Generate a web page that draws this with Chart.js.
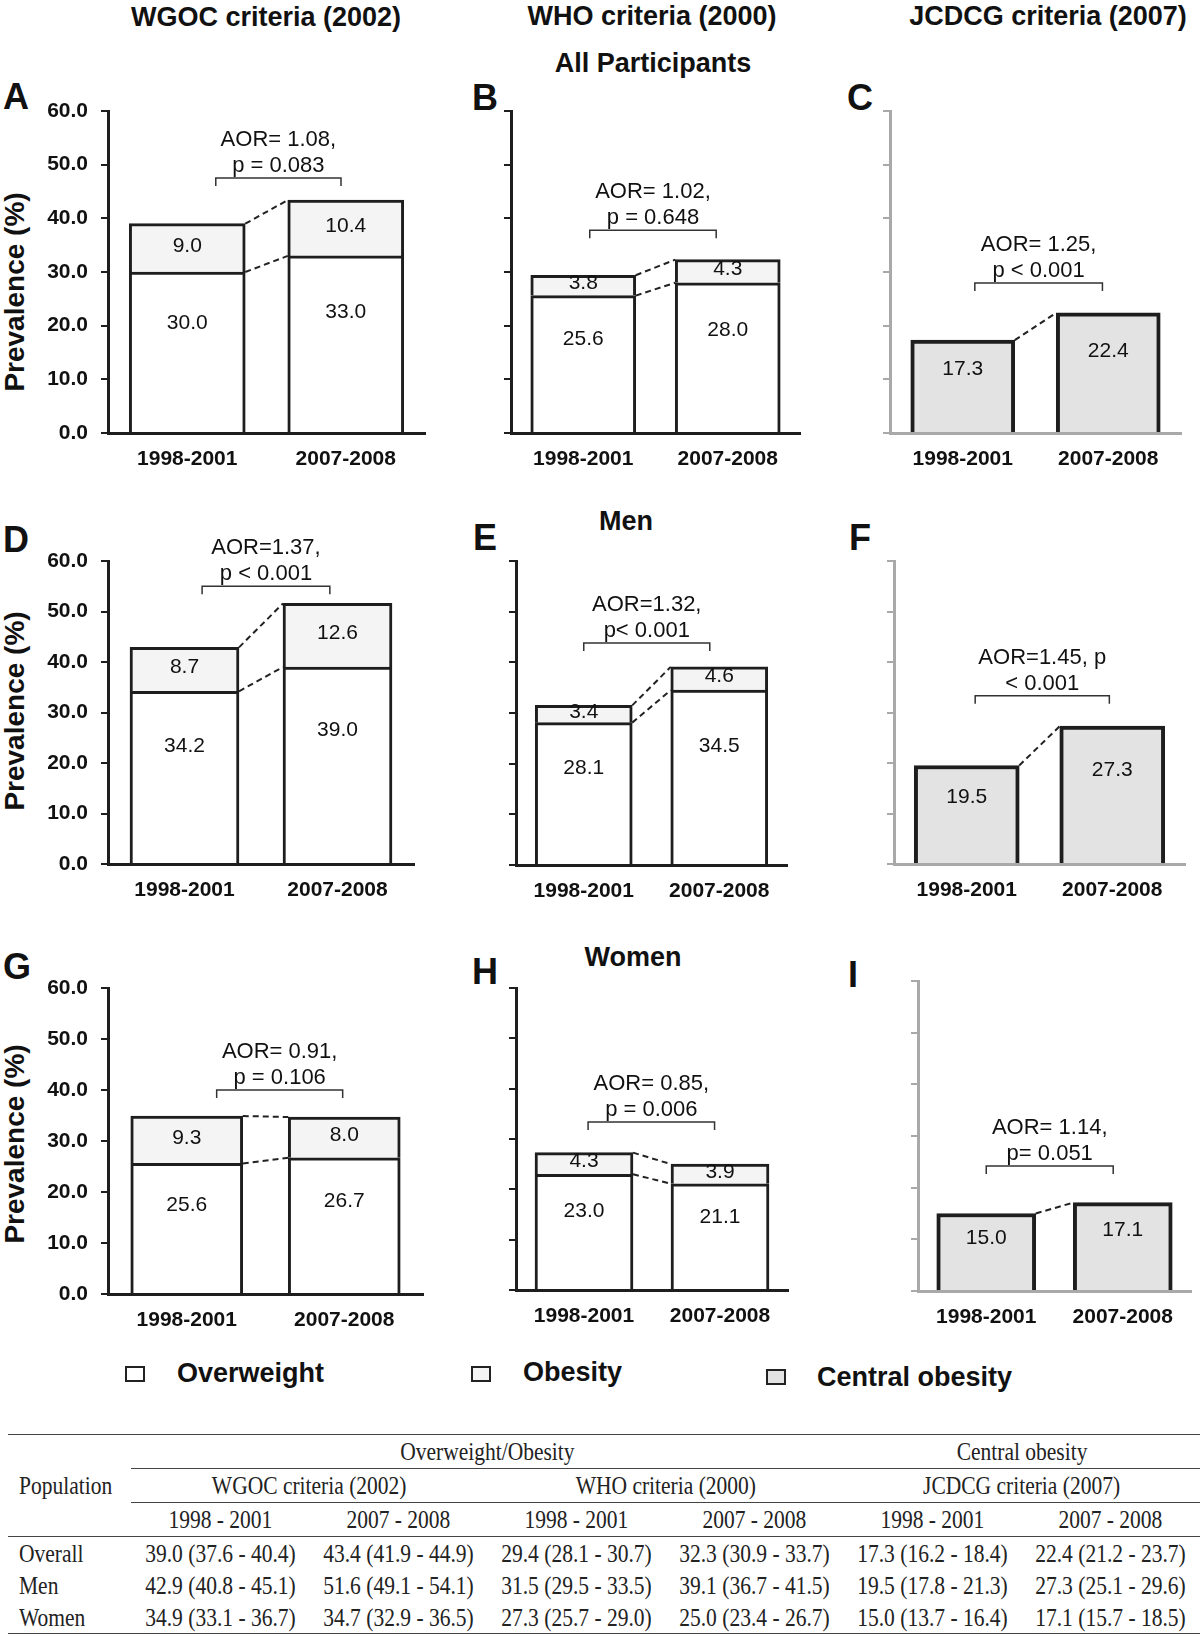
<!DOCTYPE html>
<html><head><meta charset="utf-8">
<script src="https://cdn.jsdelivr.net/npm/chart.js@4.4.0/dist/chart.umd.min.js"></script>
<style>
html,body{margin:0;padding:0;background:#fff;}
body{width:1200px;height:1637px;position:relative;overflow:hidden;font-family:"Liberation Sans",Arial,sans-serif;color:#111;}
.abs{position:absolute;white-space:nowrap;line-height:1;}
.c{transform:translate(-50%,-50%);}
.ttl{font-weight:bold;font-size:27px;}
.let{font-weight:bold;font-size:36px;}
.ylab{font-weight:bold;font-size:28px;transform:translate(-50%,-50%) rotate(-90deg);}
.legt{font-weight:bold;font-size:27px;transform:translateY(-50%);}
.box{position:absolute;width:20px;height:16px;box-sizing:border-box;border:2px solid #222;}
canvas{position:absolute;}
#tbl{position:absolute;left:8px;top:1434px;width:1192px;border-collapse:collapse;table-layout:fixed;
 font-family:"Liberation Serif","Times New Roman",serif;font-size:25px;color:#222;}
#tbl td{padding:0;line-height:1;vertical-align:middle;text-align:center;white-space:nowrap;overflow:visible;}
#tbl td span{display:inline-block;transform:scaleX(0.86);}
#tbl td.lft span{transform-origin:0 50%;}
#tbl tr.r1 td{border-top:1.5px solid #444;height:33px;}
#tbl tr.r2 td{height:33px;}
#tbl tr.r3 td{height:33px;border-bottom:1px solid #444;}
#tbl tr.d td{height:32px;}
#tbl tr.last td{border-bottom:1.5px solid #444;}
#tbl td.bb{border-bottom:1px solid #444;}
#tbl td.lft{text-align:left;padding-left:11px;}
</style>
</head><body>

<!-- column titles -->
<div class="abs c ttl" style="left:266px;top:17px">WGOC criteria (2002)</div>
<div class="abs c ttl" style="left:652px;top:16px">WHO criteria (2000)</div>
<div class="abs c ttl" style="left:1048px;top:16px">JCDCG criteria (2007)</div>
<div class="abs c ttl" style="left:653px;top:63px">All Participants</div>
<div class="abs c ttl" style="left:626px;top:521px">Men</div>
<div class="abs c ttl" style="left:633px;top:957px">Women</div>

<!-- panel letters -->
<div class="abs c let" style="left:16px;top:97px">A</div>
<div class="abs c let" style="left:485px;top:98px">B</div>
<div class="abs c let" style="left:860px;top:98px">C</div>
<div class="abs c let" style="left:16px;top:540px">D</div>
<div class="abs c let" style="left:485px;top:538px">E</div>
<div class="abs c let" style="left:860px;top:538px">F</div>
<div class="abs c let" style="left:17px;top:967px">G</div>
<div class="abs c let" style="left:485px;top:972px">H</div>
<div class="abs c let" style="left:853px;top:975px">I</div>

<!-- y axis titles -->
<div class="abs ylab" style="left:15px;top:292px">Prevalence (%)</div>
<div class="abs ylab" style="left:15px;top:711px">Prevalence (%)</div>
<div class="abs ylab" style="left:15px;top:1144px">Prevalence (%)</div>

<!-- legend -->
<div class="box" style="left:125px;top:1366px;background:#ffffff"></div>
<div class="abs legt" style="left:177px;top:1373px">Overweight</div>
<div class="box" style="left:471px;top:1366px;background:#f4f4f4"></div>
<div class="abs legt" style="left:523px;top:1372px">Obesity</div>
<div class="box" style="left:766px;top:1369px;background:#e3e3e3"></div>
<div class="abs legt" style="left:817px;top:1377px">Central obesity</div>

<table id="tbl">
<colgroup><col style="width:123px"><col span="6"></colgroup>
<tbody id="tb"></tbody>
</table>

<script>
// ---------------- DATA ----------------
const categories = ['1998-2001', '2007-2008'];

// All participants
const overweightWGOC_all = [30.0, 33.0];
const obesityWGOC_all    = [9.0, 10.4];
const overweightWHO_all  = [25.6, 28.0];
const obesityWHO_all     = [3.8, 4.3];
const centralJCDCG_all   = [17.3, 22.4];
// Men
const overweightWGOC_men = [34.2, 39.0];
const obesityWGOC_men    = [8.7, 12.6];
const overweightWHO_men  = [28.1, 34.5];
const obesityWHO_men     = [3.4, 4.6];
const centralJCDCG_men   = [19.5, 27.3];
// Women
const overweightWGOC_women = [25.6, 26.7];
const obesityWGOC_women    = [9.3, 8.0];
const overweightWHO_women  = [23.0, 21.1];
const obesityWHO_women     = [4.3, 3.9];
const centralJCDCG_women   = [15.0, 17.1];

// AOR annotations
const aorA = ['AOR= 1.08,', 'p = 0.083'];
const aorB = ['AOR= 1.02,', 'p = 0.648'];
const aorC = ['AOR= 1.25,', 'p < 0.001'];
const aorD = ['AOR=1.37,', 'p < 0.001'];
const aorE = ['AOR=1.32,', 'p< 0.001'];
const aorF = ['AOR=1.45, p', '< 0.001'];
const aorG = ['AOR= 0.91,', 'p = 0.106'];
const aorH = ['AOR= 0.85,', 'p = 0.006'];
const aorI = ['AOR= 1.14,', 'p= 0.051'];

const yTicks = [0, 10, 20, 30, 40, 50, 60];

// Table
const tablePopulations = ['Overall', 'Men', 'Women'];
const tablePeriods = ['1998 - 2001', '2007 - 2008', '1998 - 2001', '2007 - 2008', '1998 - 2001', '2007 - 2008'];
const tableEst = [[39.0, 43.4, 29.4, 32.3, 17.3, 22.4],
                  [42.9, 51.6, 31.5, 39.1, 19.5, 27.3],
                  [34.9, 34.7, 27.3, 25.0, 15.0, 17.1]];
const tableLo  = [[37.6, 41.9, 28.1, 30.9, 16.2, 21.2],
                  [40.8, 49.1, 29.5, 36.7, 17.8, 25.1],
                  [33.1, 32.9, 25.7, 23.4, 13.7, 15.7]];
const tableHi  = [[40.4, 44.9, 30.7, 33.7, 18.4, 23.7],
                  [45.1, 54.1, 33.5, 41.5, 21.3, 29.6],
                  [36.7, 36.5, 29.0, 26.7, 16.4, 18.5]];

// ---------------- LAYOUT (positions / styles) ----------------
const panels = [
 {key:'A', ow:overweightWGOC_all,   ob:obesityWGOC_all,   aor:aorA, box:[108,425,111,433],  bar:116, yLabels:true,  br:[47.5,0.18,0.97]},
 {key:'B', ow:overweightWHO_all,    ob:obesityWHO_all,    aor:aorB, box:[511,800,111,433],  bar:105, yLabels:false, br:[37.8,0.045,0.92]},
 {key:'C', co:centralJCDCG_all,                            aor:aorC, box:[890,1181,111,433], bar:104, yLabels:false, br:[27.95,0.083,0.96]},
 {key:'D', ow:overweightWGOC_men,   ob:obesityWGOC_men,   aor:aorD, box:[108,414,561,864],  bar:109, yLabels:true,  br:[55.0,0.115,0.95]},
 {key:'E', ow:overweightWHO_men,    ob:obesityWHO_men,    aor:aorE, box:[516,787,561,865],  bar:97,  yLabels:false, br:[43.8,0.0,0.93]},
 {key:'F', co:centralJCDCG_men,                            aor:aorF, box:[894,1185,561,864], bar:105, yLabels:false, br:[33.3,0.058,0.98]},
 {key:'G', ow:overweightWGOC_women, ob:obesityWGOC_women, aor:aorG, box:[108,423,988,1294], bar:112, yLabels:true,  br:[40.0,0.19,0.99]},
 {key:'H', ow:overweightWHO_women,  ob:obesityWHO_women,  aor:aorH, box:[516,788,988,1290], bar:98,  yLabels:false, br:[33.4,0.03,0.96]},
 {key:'I', co:centralJCDCG_women,                          aor:aorI, box:[918,1191,981,1291],bar:99,  yLabels:false, br:[24.2,0.0,0.93]}
];

const TEXT_FONT = '21px "Liberation Sans", Arial, sans-serif';
const AOR_FONT = '22px "Liberation Sans", Arial, sans-serif';

function annotPlugin(p){
  return {
    id: 'annot' + p.key,
    afterDatasetsDraw(chart){
      const ctx = chart.ctx, xs = chart.scales.x, ys = chart.scales.y;
      const metas = chart.data.datasets.map((d, i) => chart.getDatasetMeta(i));
      ctx.save();
      // dashed connectors between bar tops
      ctx.setLineDash([6, 4]); ctx.lineWidth = 2; ctx.strokeStyle = '#222';
      metas.forEach(m => {
        const b0 = m.data[0], b1 = m.data[1];
        ctx.beginPath();
        ctx.moveTo(b0.x + b0.width / 2, b0.y);
        ctx.lineTo(b1.x - b1.width / 2, b1.y);
        ctx.stroke();
      });
      ctx.setLineDash([]);
      // values inside bars
      ctx.fillStyle = '#111'; ctx.font = TEXT_FONT; ctx.textAlign = 'center'; ctx.textBaseline = 'middle';
      chart.data.datasets.forEach((d, i) => {
        const m = metas[i];
        d.data.forEach((v, j) => {
          const el = m.data[j];
          const frac = i === 0 ? 0.68 : 0.5;
          const y = el.base + (el.y - el.base) * frac + (i === 0 ? 0 : -2);
          ctx.fillText(Number(v).toFixed(1), el.x, y);
        });
      });
      // bracket and AOR text
      const [bv, u0, u1] = p.br;
      const x0 = xs.getPixelForValue(0), x1 = xs.getPixelForValue(1);
      const bx0 = x0 + u0 * (x1 - x0), bx1 = x0 + u1 * (x1 - x0), by = ys.getPixelForValue(bv);
      ctx.lineWidth = 1.5; ctx.strokeStyle = '#333';
      ctx.beginPath();
      ctx.moveTo(bx0, by + 8); ctx.lineTo(bx0, by); ctx.lineTo(bx1, by); ctx.lineTo(bx1, by + 8);
      ctx.stroke();
      const cx = (bx0 + bx1) / 2;
      ctx.font = AOR_FONT;
      ctx.fillText(p.aor[0], cx, by - 38);
      ctx.fillText(p.aor[1], cx, by - 12);
      ctx.restore();
    }
  };
}

panels.forEach(p => {
  const [L, R, T, B] = p.box;
  const PADT = 80, PADR = 12, XH = 45;
  const cl = p.yLabels ? 0 : L - 30;
  const ct = T - PADT;
  const cw = R + PADR - cl, ch = B + XH - ct;
  const yW = L - cl;
  const cv = document.createElement('canvas');
  cv.width = cw; cv.height = ch;
  cv.style.left = cl + 'px'; cv.style.top = ct + 'px';
  cv.style.width = cw + 'px'; cv.style.height = ch + 'px';
  document.body.appendChild(cv);

  const gray = !!p.co;
  const axisColor = gray ? '#a9a9a9' : '#1e1e1e';
  let datasets;
  if (p.co) {
    datasets = [{label:'Central obesity', data:p.co, backgroundColor:'#e3e3e3', borderColor:'#1e1e1e',
                 borderWidth:4, borderSkipped:'start', barThickness:p.bar, stack:'s'}];
  } else {
    datasets = [
      {label:'Overweight', data:p.ow, backgroundColor:'#ffffff', borderColor:'#1e1e1e',
       borderWidth:3, borderSkipped:'start', barThickness:p.bar, stack:'s'},
      {label:'Obesity', data:p.ob, backgroundColor:'#f4f4f4', borderColor:'#1e1e1e',
       borderWidth:3, borderSkipped:'start', barThickness:p.bar, stack:'s'}
    ];
  }

  new Chart(cv, {
    type: 'bar',
    data: { labels: categories, datasets },
    options: {
      responsive: false, animation: false, devicePixelRatio: 1,
      layout: { padding: { top: PADT, right: PADR, left: 0, bottom: 0 }, autoPadding: false },
      plugins: { legend: { display: false }, tooltip: { enabled: false } },
      scales: {
        x: {
          type: 'category', stacked: true, offset: true, z: 1,
          grid: { display: true, drawOnChartArea: false, drawTicks: false },
          border: { display: true, color: axisColor, width: 3 },
          ticks: { padding: 14, color: '#111', maxRotation: 0,
                   font: { family: '"Liberation Sans", Arial, sans-serif', weight: 'bold', size: 21 } },
          afterFit(s) { s.height = XH; }
        },
        y: {
          stacked: true, min: 0, max: 60, z: 1,
          afterBuildTicks(s) { s.ticks = yTicks.map(v => ({ value: v })); },
          grid: { display: true, drawOnChartArea: false, drawTicks: true, tickLength: 7,
                  color: axisColor, lineWidth: 2 },
          border: { display: true, color: axisColor, width: 3 },
          ticks: { display: p.yLabels, padding: 13, color: '#111',
                   font: { family: '"Liberation Sans", Arial, sans-serif', weight: 'bold', size: 21 },
                   callback: v => Number(v).toFixed(1) },
          afterFit(s) { s.width = yW; }
        }
      }
    },
    plugins: [annotPlugin(p)]
  });
});

// ---------------- TABLE ----------------
(function(){
  const tb = document.getElementById('tb');
  const sp = s => '<span>' + s + '</span>';
  let html = '';
  html += '<tr class="r1"><td></td><td colspan="4" class="bb">' + sp('Overweight/Obesity') + '</td><td colspan="2" class="bb">' + sp('Central obesity') + '</td></tr>';
  html += '<tr class="r2"><td class="lft">' + sp('Population') + '</td><td colspan="2" class="bb">' + sp('WGOC criteria (2002)') + '</td><td colspan="2" class="bb">' + sp('WHO criteria (2000)') + '</td><td colspan="2" class="bb">' + sp('JCDCG criteria (2007)') + '</td></tr>';
  html += '<tr class="r3"><td></td>' + tablePeriods.map(s => '<td>' + sp(s) + '</td>').join('') + '</tr>';
  tablePopulations.forEach((pop, r) => {
    const cls = r === tablePopulations.length - 1 ? 'd last' : 'd';
    html += '<tr class="' + cls + '"><td class="lft">' + sp(pop) + '</td>' +
      tableEst[r].map((e, c) => '<td>' + sp(e.toFixed(1) + ' (' + tableLo[r][c].toFixed(1) + ' - ' + tableHi[r][c].toFixed(1) + ')') + '</td>').join('') + '</tr>';
  });
  tb.innerHTML = html;
})();
</script>
</body></html>
